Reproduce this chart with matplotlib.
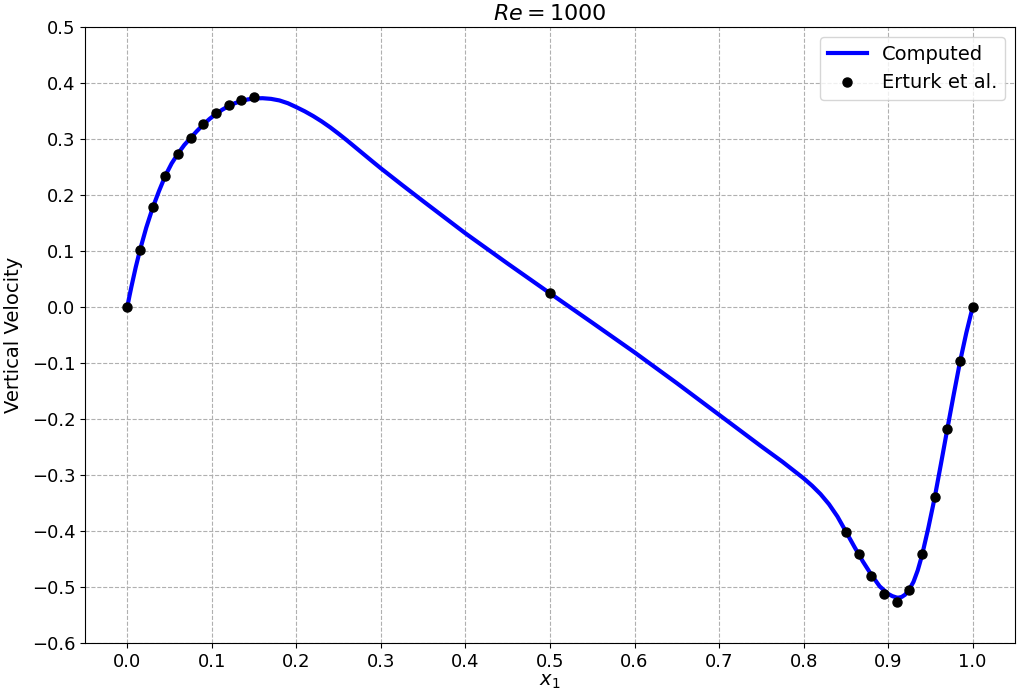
import matplotlib
matplotlib.use("Agg")
import matplotlib.pyplot as plt

# Computed solution
comp_x = [0.0, 0.0025, 0.005, 0.0075, 0.01, 0.015, 0.0225, 0.03, 0.0375, 0.045, 0.0525,
          0.06, 0.0675, 0.075, 0.0825, 0.09, 0.0975, 0.105, 0.1125, 0.12, 0.1275, 0.135,
          0.1425, 0.15, 0.16, 0.17, 0.18, 0.19, 0.2, 0.21, 0.22, 0.23, 0.24, 0.25, 0.26,
          0.27, 0.28, 0.29, 0.3, 0.325, 0.35, 0.4, 0.45, 0.5, 0.55, 0.6, 0.65, 0.7, 0.75,
          0.775, 0.8, 0.81, 0.82, 0.83, 0.84, 0.85, 0.86, 0.87, 0.88, 0.89, 0.9, 0.905,
          0.91, 0.912, 0.916, 0.92, 0.925, 0.93, 0.935, 0.94, 0.9475, 0.955, 0.9625,
          0.97, 0.9775, 0.985, 0.9925, 1.0]
comp_v = [0.0, 0.019, 0.037, 0.054, 0.071, 0.1015, 0.142, 0.177, 0.207, 0.2345, 0.2565,
          0.274, 0.2895, 0.302, 0.3145, 0.326, 0.3362, 0.345, 0.3526, 0.359, 0.3642, 0.368,
          0.3708, 0.3725, 0.373, 0.3718, 0.369, 0.364, 0.357, 0.3495, 0.341, 0.3315, 0.321,
          0.3095, 0.2975, 0.285, 0.2725, 0.26, 0.2477, 0.2181, 0.189, 0.1316, 0.0775, 0.0245,
          -0.028, -0.081, -0.136, -0.1925, -0.249, -0.2765, -0.306, -0.3192, -0.3342, -0.3522,
          -0.3742, -0.401, -0.4282, -0.4543, -0.478, -0.499, -0.5125, -0.5165, -0.519, -0.5193,
          -0.518, -0.514, -0.5045, -0.491, -0.4705, -0.444, -0.395, -0.341, -0.280, -0.218,
          -0.157, -0.098, -0.046, 0.0]

# Erturk et al. reference data
ref_x = [0.0, 0.015, 0.030, 0.045, 0.060, 0.075, 0.090, 0.105, 0.120, 0.135, 0.150,
         0.500, 0.850, 0.865, 0.880, 0.895, 0.910, 0.925, 0.940, 0.955, 0.970, 0.985, 1.0]
ref_v = [0.0, 0.1019, 0.1780, 0.2349, 0.2741, 0.3023, 0.3265, 0.3460, 0.3605, 0.3705, 0.3756,
         0.0258, -0.4028, -0.4407, -0.4803, -0.5132, -0.5263, -0.5052, -0.4417, -0.3400,
         -0.2173, -0.0973, 0.0]

xticks = [0.0, 0.1, 0.2, 0.3, 0.4, 0.5, 0.6, 0.7, 0.8, 0.9, 1.0]
yticks = [-0.6, -0.5, -0.4, -0.3, -0.2, -0.1, 0.0, 0.1, 0.2, 0.3, 0.4, 0.5]

fig = plt.figure(figsize=(10.18, 6.95), dpi=100)
ax = fig.add_axes([0.0835, 0.075, 0.9135, 0.886])
ax.plot(comp_x, comp_v, color="blue", lw=3, label="Computed", zorder=2,
        solid_joinstyle="round")
ax.plot(ref_x, ref_v, "o", color="black", ms=6.5, label="Erturk et al.", zorder=3)
ax.set_xlim(-0.05, 1.05)
ax.set_ylim(-0.6, 0.5)
ax.set_xticks(xticks)
ax.set_yticks(yticks)
ax.tick_params(labelsize=13)
ax.grid(True, linestyle="--", color="#b0b0b0", linewidth=0.8)
ax.set_xlabel("$x_1$", fontsize=14, labelpad=1)
ax.set_ylabel("Vertical Velocity", fontsize=14, labelpad=6)
ax.set_title("$Re = 1000$", fontsize=16, pad=5)
ax.legend(loc="upper right", fontsize=14)
fig.savefig("out.png", dpi=100)
